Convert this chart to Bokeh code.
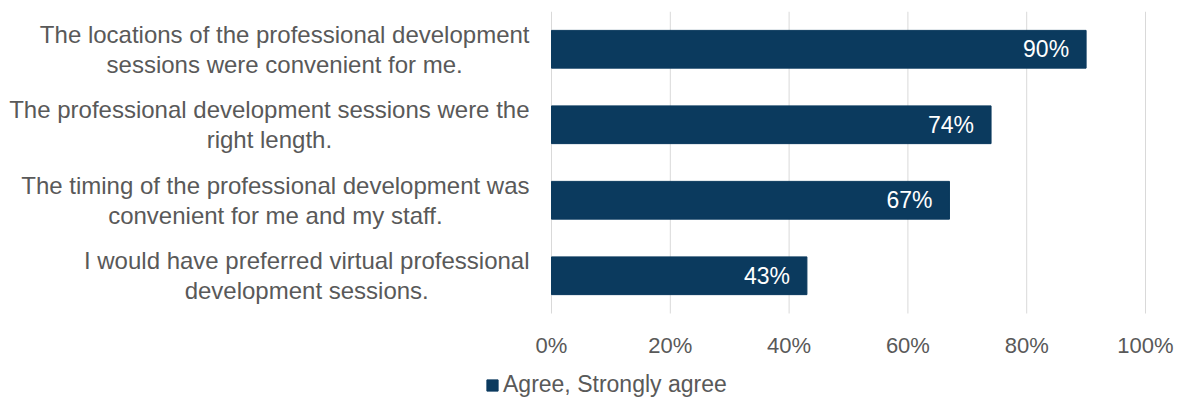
from bokeh.plotting import figure
from bokeh.models import (ColumnDataSource, Range1d, NumeralTickFormatter,
                          Legend, LegendItem, FixedTicker, LabelSet)
from bokeh.core.properties import value
from bokeh.embed import file_html
from bokeh.resources import INLINE

categories = [
    "The locations of the professional development\nsessions were convenient for me.",
    "The professional development sessions were the\nright length.",
    "The timing of the professional development was\nconvenient for me and my staff.",
    "I would have preferred virtual professional\ndevelopment sessions.",
]
values = [0.90, 0.74, 0.67, 0.43]
series_name = "Agree, Strongly agree"
x_ticks = [0, 0.2, 0.4, 0.6, 0.8, 1.0]

BAR = "#0b3a5e"
GREY = "#595959"
FONT = "Liberation Sans"

W, H = 1179, 401
LEFT_PX, RIGHT_PX = 551, 34            # label gutter and right margin (pixels)
TOP_PX, PLOT_H = 11, 302               # top margin and height of the bar area (pixels)
n = len(categories)
px_per_cat = PLOT_H / n
px_per_unit = W - RIGHT_PX - LEFT_PX   # pixels for 0% .. 100%
y_start = -(H - TOP_PX - PLOT_H) / px_per_cat   # room below bars for axis labels + legend
x_start = -LEFT_PX / px_per_unit                 # so that 0% sits at LEFT_PX
x_end = 1.0 + RIGHT_PX / px_per_unit             # room for the "100%" tick label

# first category at the top: slot centres n-0.5, n-1.5, ...
ypos = [n - 0.5 - i for i in range(n)]
src = ColumnDataSource(dict(cat=categories, y=ypos, val=values, zero=[0] * n,
                            lab=[f"{round(v*100)}%" for v in values]))
grid_src = ColumnDataSource(dict(x=x_ticks, y0=[0] * len(x_ticks), y1=[n] * len(x_ticks)))

p = figure(width=W, height=H, output_backend="svg", toolbar_location=None,
           y_range=Range1d(y_start, n), x_range=Range1d(x_start, x_end),
           min_border_left=0, min_border_right=0, min_border_top=TOP_PX,
           min_border_bottom=0)
p.outline_line_color = None
p.background_fill_color = "white"
p.border_fill_color = "white"
p.xgrid.visible = False
p.ygrid.visible = False
p.yaxis.visible = False

# vertical gridlines at the x ticks, spanning the bar area only
p.segment(x0="x", y0="y0", x1="x", y1="y1", source=grid_src, line_color="#d9d9d9", line_width=1)

r = p.hbar(y="y", right="val", height=0.5, source=src, color=BAR, line_color=BAR)

labels = LabelSet(x="val", y="y", text="lab", source=src, x_offset=-17,
                  text_align="right", text_baseline="middle", text_color="white",
                  text_font=value(FONT), text_font_size="23px")
p.add_layout(labels)

# category labels: block right-aligned at the gutter, lines centred within the block
p.text(x="zero", y="y", text="cat", source=src, x_offset=-22,
       text_align="center", anchor=value("center_right"), text_baseline="middle",
       text_font=value(FONT), text_font_size="24px", text_color=GREY,
       text_line_height=1.1)

p.xaxis.fixed_location = 0
p.xaxis.ticker = FixedTicker(ticks=x_ticks)
p.xaxis.formatter = NumeralTickFormatter(format="0%")
p.xaxis.axis_line_color = None
p.xaxis.major_tick_line_color = None
p.xaxis.minor_tick_line_color = None
p.xaxis.major_label_text_font = FONT
p.xaxis.major_label_text_font_size = "22px"
p.xaxis.major_label_text_color = GREY
p.xaxis.major_label_standoff = 13
p.xaxis.major_label_text_baseline = "middle"

legend = Legend(items=[LegendItem(label=series_name, renderers=[r])],
                location=(485, 3), orientation="horizontal",
                label_text_font=FONT, label_text_font_size="23px", label_text_color=GREY,
                glyph_width=14, glyph_height=14, label_standoff=4,
                border_line_color=None, background_fill_alpha=0, padding=0, margin=0)
p.add_layout(legend, "center")

open("out.html", "w").write(file_html(p, INLINE))
